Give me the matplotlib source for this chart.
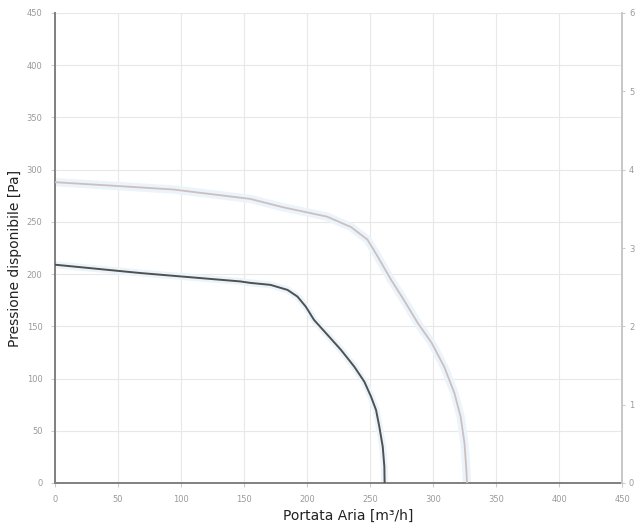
import matplotlib
matplotlib.use("Agg")
import matplotlib.pyplot as plt

# Data
x_ticks = [0, 50, 100, 150, 200, 250, 300, 350, 400, 450]
y_ticks = [0, 50, 100, 150, 200, 250, 300, 350, 400, 450]
right_ticks = [0, 1, 2, 3, 4, 5, 6]

upper_x = [0, 41, 94, 155, 181, 216, 235, 248, 256, 267, 277, 288, 299, 309, 317, 322, 325, 326.5, 327]
upper_y = [288, 285, 281, 272, 264, 255, 245, 233, 217, 194, 175, 153, 134, 111, 86, 63, 38, 12, 0]

lower_x = [0, 68, 147, 155, 171, 184.5, 192.4, 199, 205.6, 216.3, 227, 237.5, 245.5, 250.8, 254.8, 257.4, 260.1, 261.4, 261.6]
lower_y = [209, 201, 193, 191.6, 189.7, 184.9, 178.5, 168.9, 156.1, 141.8, 127.4, 111.4, 97, 82.7, 69.9, 53.9, 34.8, 15.6, 0]

xlabel = "Portata Aria [m³/h]"
ylabel = "Pressione disponibile [Pa]"

fig = plt.figure(figsize=(6.38, 5.27), dpi=100)
ax = fig.add_axes([55/638, 1-483/527, (622-55)/638, (483-13)/527])

ax.set_xlim(0, 450)
ax.set_ylim(0, 450)
ax.set_xticks(x_ticks)
ax.set_yticks(y_ticks)
ax.set_xticklabels([str(v) for v in x_ticks], fontsize=6, color="#9a9a9a")
ax.set_yticklabels([str(v) for v in y_ticks], fontsize=6, color="#9a9a9a")
ax.tick_params(axis="both", length=3, color="#cccccc", pad=6)
ax.grid(True, color="#e8e8e8", linewidth=0.8)
ax.set_axisbelow(True)

ax.spines["top"].set_visible(False)
ax.spines["left"].set_color("#808080")
ax.spines["left"].set_linewidth(1.4)
ax.spines["bottom"].set_color("#808080")
ax.spines["bottom"].set_linewidth(1.4)
ax.spines["right"].set_color("#c8c8c8")
ax.spines["right"].set_linewidth(1.4)

# Upper curve with light halo
ax.plot(upper_x, upper_y, color="#eaf4fa", linewidth=6, solid_capstyle="round",
        solid_joinstyle="round", zorder=2)
ax.plot(upper_x, upper_y, color="#cdbfbf", linewidth=1.3, solid_joinstyle="round", zorder=3)
# Lower curve
ax.plot(lower_x, lower_y, color="#eaf4fa", linewidth=5, solid_capstyle="round",
        solid_joinstyle="round", zorder=2)
ax.plot(lower_x, lower_y, color="#505050", linewidth=1.4, solid_joinstyle="round", zorder=4)

# right axis
ax2 = ax.twinx()
ax2.set_ylim(0, 6)
ax2.set_yticks(right_ticks)
ax2.set_yticklabels([str(v) for v in right_ticks], fontsize=6, color="#9a9a9a")
ax2.tick_params(axis="y", length=2, color="#cccccc", pad=3)
for s in ["top", "left", "bottom"]:
    ax2.spines[s].set_visible(False)
ax2.spines["right"].set_color("#c8c8c8")
ax2.spines["right"].set_linewidth(1.4)

fig.text(348/638, 1-516/527, xlabel, ha="center", va="center", fontsize=10, color="#222222")
fig.text(15/638, 1-258/527, ylabel, ha="center", va="center", rotation=90, fontsize=10, color="#222222")

fig.savefig("out.png", dpi=100)
